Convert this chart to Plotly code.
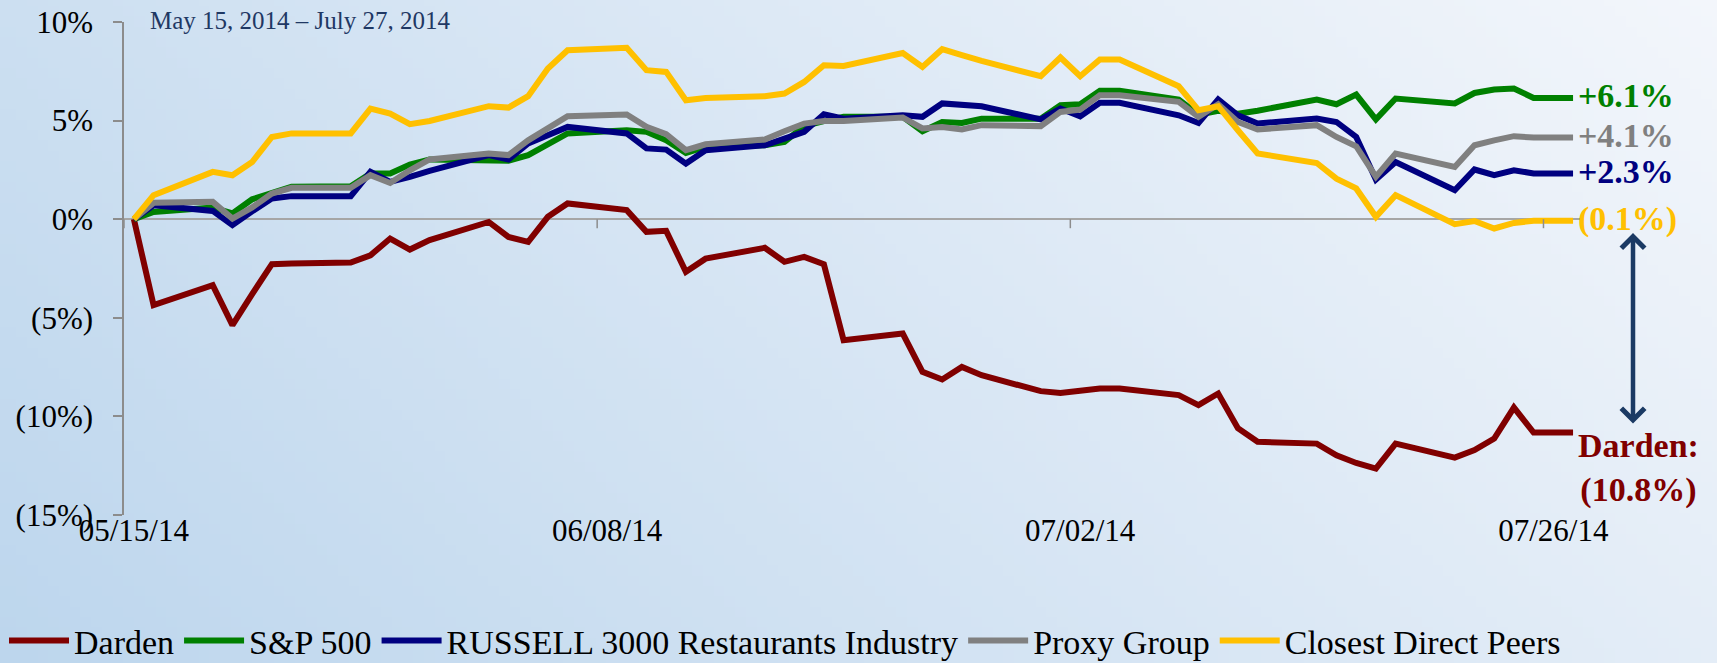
import base64
import struct
import zlib

import pandas as pd
import plotly.graph_objects as go

# ---------------- data ----------------
dates = [
    "2014-05-15", "2014-05-16", "2014-05-19", "2014-05-20", "2014-05-21", "2014-05-22", "2014-05-23",
    "2014-05-26", "2014-05-27", "2014-05-28", "2014-05-29", "2014-05-30",
    "2014-06-02", "2014-06-03", "2014-06-04", "2014-06-05", "2014-06-06",
    "2014-06-09", "2014-06-10", "2014-06-11", "2014-06-12", "2014-06-13",
    "2014-06-16", "2014-06-17", "2014-06-18", "2014-06-19", "2014-06-20",
    "2014-06-23", "2014-06-24", "2014-06-25", "2014-06-26", "2014-06-27", "2014-06-30",
    "2014-07-01", "2014-07-02", "2014-07-03", "2014-07-04",
    "2014-07-07", "2014-07-08", "2014-07-09", "2014-07-10", "2014-07-11",
    "2014-07-14", "2014-07-15", "2014-07-16", "2014-07-17", "2014-07-18",
    "2014-07-21", "2014-07-22", "2014-07-23", "2014-07-24", "2014-07-25", "2014-07-27",
]

darden = [0, -4.36, -3.35, -5.37, -3.8, -2.28, -2.25, -2.2, -1.83, -0.98, -1.54, -1.06,
          -0.14, -0.9, -1.15, 0.12, 0.8, 0.46, -0.64, -0.59, -2.67, -2.0, -1.45, -2.16, -1.91,
          -2.28, -6.14, -5.8, -7.74, -8.13, -7.49, -7.91, -8.72, -8.81, -8.7, -8.59, -8.59,
          -8.92, -9.43, -8.84, -10.6, -11.29, -11.38, -11.97, -12.36, -12.65, -11.38, -12.09,
          -11.71, -11.12, -9.55, -10.82, -10.82]
sp500 = [0, 0.37, 0.59, 0.29, 1.01, 1.3, 1.64, 1.67, 2.32, 2.32, 2.77, 3.03, 3.03, 2.96, 3.25,
         3.84, 4.35, 4.51, 4.43, 4.0, 3.36, 3.67, 3.75, 3.92, 4.72, 4.97, 5.19, 5.19, 4.46, 4.93,
         4.88, 5.1, 5.1, 5.78, 5.83, 6.51, 6.51, 6.07, 5.3, 5.5, 5.35, 5.5, 6.07, 5.83, 6.32,
         5.06, 6.12, 5.87, 6.4, 6.58, 6.63, 6.15, 6.15]
russell = [0, 0.71, 0.42, -0.3, 0.4, 1.05, 1.17, 1.17, 2.4, 1.89, 2.15, 2.45, 3.25, 3.03, 3.84,
           4.26, 4.68, 4.35, 3.59, 3.53, 2.82, 3.5, 3.75, 4.09, 4.43, 5.32, 5.1, 5.27, 5.19, 5.87,
           5.82, 5.73, 5.06, 5.61, 5.22, 5.9, 5.9, 5.27, 4.88, 6.07, 5.27, 4.85, 5.1, 4.93, 4.17,
           2.01, 2.9, 1.47, 2.52, 2.23, 2.48, 2.32, 2.32]
proxy = [0, 0.83, 0.88, 0.03, 0.6, 1.3, 1.59, 1.59, 2.23, 1.84, 2.48, 3.03, 3.33, 3.25, 4.0, 4.6,
         5.22, 5.31, 4.68, 4.31, 3.5, 3.8, 4.04, 4.46, 4.85, 4.98, 4.98, 5.16, 4.6, 4.68, 4.55,
         4.77, 4.72, 5.44, 5.56, 6.29, 6.29, 5.95, 5.19, 5.83, 4.93, 4.55, 4.77, 4.17, 3.7, 2.15,
         3.33, 2.65, 3.75, 4.0, 4.21, 4.14, 4.14]
peers = [0, 1.22, 2.4, 2.23, 2.9, 4.17, 4.35, 4.35, 5.61, 5.36, 4.82, 4.98, 5.73, 5.66, 6.24,
         7.64, 8.57, 8.69, 7.56, 7.47, 6.03, 6.15, 6.24, 6.37, 6.96, 7.81, 7.77, 8.43, 7.72, 8.62,
         8.32, 8.03, 7.25, 8.2, 7.25, 8.1, 8.1, 6.74, 5.53, 5.73, 4.51, 3.33, 2.85, 2.06, 1.56,
         0.12, 1.22, -0.25, -0.09, -0.47, -0.19, -0.08, -0.08]

series_names = ["Darden", "S&P 500", "RUSSELL 3000 Restaurants Industry", "Proxy Group",
                "Closest Direct Peers"]
series_values = [darden, sp500, russell, proxy, peers]
series_colors = ["#800000", "#008000", "#000080", "#808080", "#FFC000"]

end_labels = ["+6.1%", "+4.1%", "+2.3%", "(0.1%)"]
end_label_series = [1, 3, 2, 4]
darden_label = ["Darden:", "(10.8%)"]

x_tick_dates = ["2014-05-15", "2014-06-08", "2014-07-02", "2014-07-26"]
x_tick_text = ["05/15/14", "06/08/14", "07/02/14", "07/26/14"]
y_tick_vals = [-15, -10, -5, 0, 5, 10]
y_tick_text = ["(15%)", "(10%)", "(5%)", "0%", "5%", "10%"]
title_text = "May 15, 2014 \u2013 July 27, 2014"

# ---------------- background gradient ----------------
W_PX, H_PX = 1717, 663
L, R, T, B = 124, 135, 22, 148


def gradient_png(w, h):
    c0 = (189, 214, 237)
    c1 = (243, 246, 251)
    rows = []
    for j in range(h):
        row = bytearray([0])
        fy = 1 - j / (h - 1)
        for i in range(w):
            fx = i / (w - 1)
            t = min(1.0, max(0.0, 0.72 * fx + 0.28 * fy))
            row += bytes(int(round(a + (b - a) * t)) for a, b in zip(c0, c1))
        rows.append(bytes(row))
    raw = b"".join(rows)

    def chunk(tag, data):
        return (struct.pack(">I", len(data)) + tag + data +
                struct.pack(">I", zlib.crc32(tag + data) & 0xFFFFFFFF))

    png = (b"\x89PNG\r\n\x1a\n" +
           chunk(b"IHDR", struct.pack(">IIBBBBB", w, h, 8, 2, 0, 0, 0)) +
           chunk(b"IDAT", zlib.compress(raw, 9)) + chunk(b"IEND", b""))
    return "data:image/png;base64," + base64.b64encode(png).decode()


plot_w = W_PX - L - R
plot_h = H_PX - T - B

FONT = "Liberation Serif"

fig = go.Figure()
for name, vals, col in zip(series_names, series_values, series_colors):
    fig.add_trace(go.Scatter(x=dates, y=vals, name=name, mode="lines",
                             line=dict(color=col, width=6), hoverinfo="skip"))

# end-of-line labels
for txt, si in zip(end_labels, end_label_series):
    fig.add_annotation(x=dates[-1], y=series_values[si][-1], text="<b>" + txt + "</b>",
                       xref="x", yref="y", xanchor="left", yanchor="middle", xshift=3, yshift=2,
                       showarrow=False, font=dict(family=FONT, size=34, color=series_colors[si]))
fig.add_annotation(x=dates[-1], y=darden[-1],
                   text="<br>".join("<b>" + s + "</b>" for s in darden_label),
                   xref="x", yref="y", xanchor="left", yanchor="top", xshift=3, yshift=8,
                   showarrow=False, align="center",
                   font=dict(family=FONT, size=34, color=series_colors[0]))

# double-headed arrow between peers and Darden
fig.add_annotation(x=1 + (1633 - (W_PX - R)) / plot_w, y=-0.7, xref="paper", yref="y",
                   text="", showarrow=True, ax=0, ay=192, axref="pixel", ayref="pixel",
                   arrowhead=4, startarrowhead=4, arrowside="end+start", arrowsize=1,
                   arrowwidth=4.5, arrowcolor="#1B3A64", standoff=0, startstandoff=0)

# title
fig.add_annotation(x=(148 - L) / plot_w, y=1 + (T - 21) / plot_h, xref="paper", yref="paper",
                   text=title_text, showarrow=False, xanchor="left", yanchor="middle",
                   font=dict(family=FONT, size=25, color="#1F3864"))

# x tick marks hanging from the zero line (at day boundaries)
for d in x_tick_dates:
    xb = pd.Timestamp(d) - pd.Timedelta(hours=12)
    fig.add_shape(type="line", xref="x", yref="y", ysizemode="pixel", yanchor=0,
                  x0=xb, x1=xb, y0=0, y1=-9, line=dict(color="#8C8C8C", width=1.5))

x_start = pd.Timestamp(dates[0]) - pd.Timedelta(hours=12)
x_end = x_start + pd.Timedelta(days=(W_PX - R - L) / 19.715)

fig.update_layout(
    width=W_PX, height=H_PX,
    margin=dict(l=L, r=R, t=T, b=B, autoexpand=False),
    paper_bgcolor="#D6E5F3",
    plot_bgcolor="rgba(0,0,0,0)",
    showlegend=True,
    legend=dict(orientation="h", x=(4 - L) / plot_w, xanchor="left",
                y=-(641 - (H_PX - B)) / plot_h, yanchor="middle", itemwidth=60,
                font=dict(family=FONT, size=34, color="#000000"),
                bgcolor="rgba(0,0,0,0)", tracegroupgap=0),
    images=[dict(source=gradient_png(160, 64), xref="paper", yref="paper",
                 x=-L / plot_w, y=1 + T / plot_h, sizex=W_PX / plot_w, sizey=H_PX / plot_h,
                 xanchor="left", yanchor="top", sizing="stretch", layer="below")],
    xaxis=dict(type="date", range=[x_start, x_end], tickvals=x_tick_dates, ticktext=x_tick_text,
               showgrid=False, zeroline=False, showline=False, ticks="", automargin=False,
               ticklabelstandoff=-6,
               tickfont=dict(family=FONT, size=31, color="#000000")),
    yaxis=dict(range=[-15, 10], tickvals=y_tick_vals, ticktext=y_tick_text, showgrid=False,
               showline=True, linecolor="#8C8C8C", linewidth=1.5, ticks="outside", ticklen=9,
               tickcolor="#8C8C8C", tickwidth=1.5, ticklabelstandoff=14, automargin=False,
               zeroline=True, zerolinecolor="#A6A6A6", zerolinewidth=2,
               tickfont=dict(family=FONT, size=31, color="#000000")),
)

fig.write_html("out.html", config={"displayModeBar": False},
               post_script="document.body.style.margin='0px';")
